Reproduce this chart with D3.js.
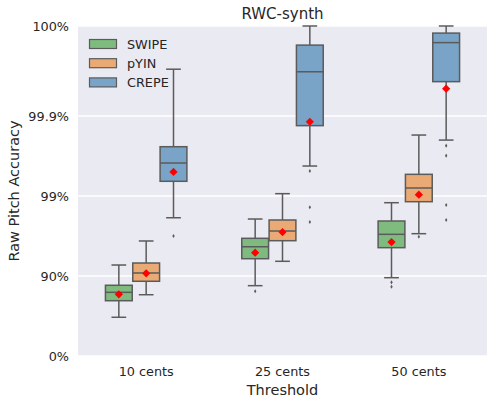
<!DOCTYPE html>
<html>
<head>
<meta charset="utf-8">
<script src="https://cdn.jsdelivr.net/npm/d3@7"></script>
<style>
  body { margin: 0; background: #fff; }
  text { font-family: "DejaVu Sans", sans-serif; fill: #262626; }
</style>
</head>
<body>
<script>
// data, accuracies in percent, rows = series, columns = thresholds
const categories = ["10 cents", "25 cents", "50 cents"];
const series = ["SWIPE", "pYIN", "CREPE"];
const colors = ["#7fbb7f", "#eaaa75", "#79a4c8"];

const lowWhisker = [[67.19, 86.79, 89.50], [82.86, 93.45, 97.042], [98.13, 99.578, 99.800]];
const q1 = [[79.63, 93.92, 95.574], [88.36, 96.38, 98.822], [99.345, 99.868, 99.9628]];
const median = [[84.00, 95.69, 96.987], [90.83, 97.26, 99.206], [99.613, 99.972, 99.9879]];
const q3 = [[86.94, 96.62, 97.946], [93.12, 98.005, 99.464], [99.758, 99.987, 99.9908]];
const highWhisker = [[92.71, 98.06, 98.787], [96.35, 99.065, 99.827], [99.974, 100, 100]];
const means = [[83.06, 94.88, 96.24], [90.75, 97.18, 99.036], [99.50, 99.882, 99.9544]];
const outliers = [
  [[], [84.48], [88.01, 86.39]],
  [[], [], [96.772]],
  [[96.84], [99.513, 98.616, 97.887], [99.765, 99.687, 98.704, 98.005]]
];
const yTicks = [0, 90, 99, 99.9, 100];
const yTickLabels = ["0%", "90%", "99%", "99.9%", "100%"];

var W = 487, H = 397;
var plotL = 78, plotR = 487, plotT = 26, plotB = 356;

var svg = d3.select("body").append("svg").attr("width", W).attr("height", H);

svg.append("rect").attr("x", plotL).attr("y", plotT)
  .attr("width", plotR - plotL).attr("height", plotB - plotT).attr("fill", "#eaeaf2");

// "nines" scale: -log10(1 - p)
var nines = d3.scaleLinear().domain([0, 4.125]).range([plotB, plotT]).clamp(true);
var y = function(p) { return nines(-Math.log10(1 - p / 100)); };

var x = d3.scaleBand().domain(categories).range([plotL, plotR]);
var hue = d3.scaleBand().domain(series).range([-41, 41]);
var boxW = hue.bandwidth() * 0.98;
var capW = boxW * 0.55;

// grid + y tick labels
yTicks.forEach(function(t, i) {
  svg.append("line").attr("x1", plotL).attr("x2", plotR)
    .attr("y1", y(t)).attr("y2", y(t))
    .attr("stroke", "#fff").attr("stroke-width", 1.3);
  svg.append("text").attr("x", 69).attr("y", y(t)).attr("dy", "0.36em")
    .attr("text-anchor", "end").attr("font-size", 12.8).text(yTickLabels[i]);
});

categories.forEach(function(c) {
  svg.append("text").attr("x", x(c) + x.bandwidth() / 2).attr("y", 376)
    .attr("text-anchor", "middle").attr("font-size", 12.8).text(c);
});

var lineCol = "#5b5b5b";

series.forEach(function(s, j) {
  categories.forEach(function(c, i) {
    var cx = x(c) + x.bandwidth() / 2 + hue(s) + hue.bandwidth() / 2;
    var g = svg.append("g");
    // whiskers
    g.append("line").attr("x1", cx).attr("x2", cx)
      .attr("y1", y(lowWhisker[j][i])).attr("y2", y(q1[j][i]))
      .attr("stroke", lineCol).attr("stroke-width", 1.5);
    g.append("line").attr("x1", cx).attr("x2", cx)
      .attr("y1", y(q3[j][i])).attr("y2", y(highWhisker[j][i]))
      .attr("stroke", lineCol).attr("stroke-width", 1.5);
    [lowWhisker[j][i], highWhisker[j][i]].forEach(function(v) {
      g.append("line").attr("x1", cx - capW / 2).attr("x2", cx + capW / 2)
        .attr("y1", y(v)).attr("y2", y(v))
        .attr("stroke", lineCol).attr("stroke-width", 1.5);
    });
    // box
    g.append("rect").attr("x", cx - boxW / 2).attr("y", y(q3[j][i]))
      .attr("width", boxW).attr("height", y(q1[j][i]) - y(q3[j][i]))
      .attr("fill", colors[j]).attr("stroke", lineCol).attr("stroke-width", 1.5);
    g.append("line").attr("x1", cx - boxW / 2).attr("x2", cx + boxW / 2)
      .attr("y1", y(median[j][i])).attr("y2", y(median[j][i]))
      .attr("stroke", lineCol).attr("stroke-width", 1.5);
    // fliers
    outliers[j][i].forEach(function(v) {
      g.append("path").attr("d", d3.symbol(d3.symbolDiamond, 5)())
        .attr("transform", "translate(" + cx + "," + y(v) + ")")
        .attr("fill", lineCol);
    });
    // mean
    g.append("path").attr("d", d3.symbol(d3.symbolSquare, 34)())
      .attr("transform", "translate(" + cx + "," + y(means[j][i]) + ") rotate(45)")
      .attr("fill", "#ff0000");
  });
});

// legend
series.forEach(function(s, j) {
  var ly = 44 + j * 19.2;
  svg.append("rect").attr("x", 89.5).attr("y", ly - 4.5).attr("width", 27).attr("height", 9)
    .attr("fill", colors[j]).attr("stroke", lineCol).attr("stroke-width", 1.2);
  svg.append("text").attr("x", 127).attr("y", ly).attr("dy", "0.36em")
    .attr("font-size", 12.8).text(s);
});

svg.append("text").attr("x", (plotL + plotR) / 2).attr("y", 18.5)
  .attr("text-anchor", "middle").attr("font-size", 15).text("RWC-synth");
svg.append("text").attr("x", (plotL + plotR) / 2).attr("y", 395)
  .attr("text-anchor", "middle").attr("font-size", 14.5).text("Threshold");
svg.append("text")
  .attr("transform", "translate(19," + ((plotT + plotB) / 2) + ") rotate(-90)")
  .attr("text-anchor", "middle").attr("font-size", 14.5).text("Raw Pitch Accuracy");
</script>
</body>
</html>
